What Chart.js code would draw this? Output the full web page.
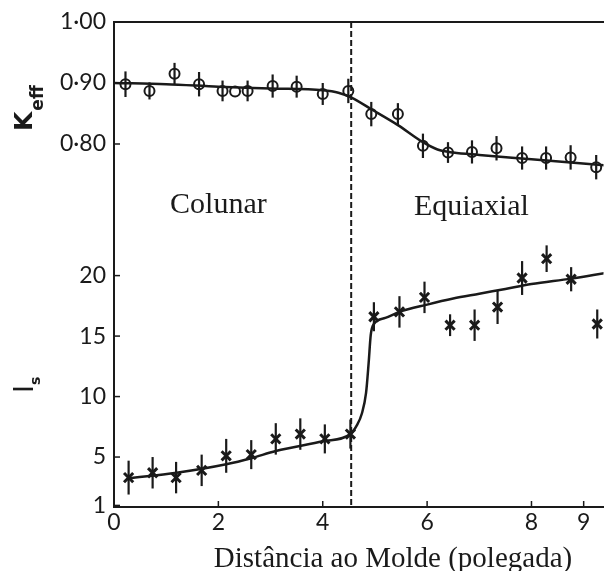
<!DOCTYPE html>
<html>
<head>
<meta charset="utf-8">
<script src="https://cdn.jsdelivr.net/npm/chart.js@4.4.1/dist/chart.umd.min.js"></script>
<style>
  html, body { margin: 0; padding: 0; background: #fff; overflow: hidden; }
  #wrap { width: 613px; height: 571px; }
</style>
</head>
<body>
<div id="wrap"><canvas id="chart" width="613" height="571"></canvas></div>
<script>
// K_eff measurements (open circles) and their error half-widths
const keffX   = [0.22, 0.68, 1.16, 1.63, 2.08, 2.32, 2.56, 3.04, 3.50, 4.00, 4.49, 4.93, 5.44, 5.92, 6.40, 6.86, 7.33, 7.82, 8.28, 8.75, 9.24];
const keffY   = [0.898, 0.887, 0.915, 0.898, 0.887, 0.886, 0.887, 0.895, 0.894, 0.882, 0.887, 0.849, 0.849, 0.797, 0.786, 0.787, 0.793, 0.777, 0.777, 0.778, 0.762];
const keffErr = [0.021, 0.014, 0.018, 0.020, 0.017, 0, 0.017, 0.019, 0.018, 0.018, 0.020, 0.020, 0.018, 0.020, 0.017, 0.019, 0.020, 0.019, 0.019, 0.020, 0.020];

// fitted curve through K_eff
const keffFitX = [0, 1.0, 2.0, 3.0, 4.0, 4.3, 4.55, 4.93, 5.44, 5.92, 6.2, 6.5, 7.0, 8.0, 9.4];
const keffFitY = [0.900, 0.898, 0.894, 0.891, 0.888, 0.884, 0.876, 0.857, 0.831, 0.803, 0.791, 0.786, 0.782, 0.775, 0.765];

// I_s measurements (crosses) and their error half-widths
const isX   = [0.28, 0.74, 1.19, 1.68, 2.15, 2.63, 3.10, 3.57, 4.04, 4.53, 4.98, 5.47, 5.95, 6.44, 6.91, 7.35, 7.82, 8.29, 8.76, 9.26];
const isY   = [3.3, 3.7, 3.3, 3.9, 5.1, 5.2, 6.5, 6.9, 6.5, 6.9, 16.6, 17.0, 18.2, 15.9, 15.9, 17.4, 19.8, 21.4, 19.7, 16.0];
const isErr = [1.4, 1.3, 1.3, 1.3, 1.4, 1.2, 1.3, 1.3, 1.2, 1.2, 1.2, 1.3, 1.3, 0.9, 1.3, 1.4, 1.4, 1.1, 1.0, 1.2];

// fitted curve through I_s
const isFitX = [0.28, 1.2, 2.15, 2.63, 3.1, 4.0, 4.53, 4.65, 4.75, 4.83, 4.88, 4.92, 4.98, 5.2, 5.47, 6.0, 6.5, 7.0, 7.5, 8.0, 8.76, 9.4];
const isFitY = [3.25, 3.7, 4.4, 4.9, 5.5, 6.3, 6.9, 7.6, 8.6, 10.3, 12.8, 15.1, 16.0, 16.5, 17.0, 17.6, 18.1, 18.5, 18.9, 19.3, 19.75, 20.2];

const xTicks    = [0, 2, 4, 6, 8, 9];
const keffTicks = [0.8, 0.9, 1.0];
const isTicks   = [1, 5, 10, 15, 20];
const boundaryX = 4.545;

const ink = '#1a1a1a';
const pts = (xs, ys) => xs.map((x, i) => ({ x: x, y: ys[i] }));

const errorBars = {
  id: 'errorBars',
  beforeDatasetsDraw(chart) {
    const ctx = chart.ctx;
    const xs = chart.scales.x;
    ctx.save();
    ctx.strokeStyle = ink;
    ctx.lineWidth = 2.2;
    chart.data.datasets.forEach(ds => {
      if (!ds.errors) return;
      const ys = chart.scales[ds.yAxisID];
      ds.data.forEach((p, i) => {
        const e = ds.errors[i];
        if (!e) return;
        const px = xs.getPixelForValue(p.x);
        ctx.beginPath();
        ctx.moveTo(px, ys.getPixelForValue(p.y - e));
        ctx.lineTo(px, ys.getPixelForValue(p.y + e));
        ctx.stroke();
      });
    });
    ctx.restore();
  }
};

const decorations = {
  id: 'decorations',
  afterDatasetsDraw(chart) {
    const ctx = chart.ctx;
    const a = chart.chartArea;
    const xs = chart.scales.x, yK = chart.scales.yK, yI = chart.scales.yI;
    ctx.save();
    // boundary between zones
    const bx = xs.getPixelForValue(boundaryX);
    ctx.strokeStyle = ink;
    ctx.lineWidth = 2;
    ctx.setLineDash([6, 3]);
    ctx.beginPath();
    ctx.moveTo(bx, a.top);
    ctx.lineTo(bx, a.bottom);
    ctx.stroke();
    ctx.setLineDash([]);
    // inward tick marks
    ctx.lineWidth = 1.5;
    xTicks.forEach(v => {
      if (v === 0) return;
      const p = xs.getPixelForValue(v);
      ctx.beginPath(); ctx.moveTo(p, a.bottom); ctx.lineTo(p, a.bottom - 6); ctx.stroke();
    });
    keffTicks.forEach(v => {
      const p = yK.getPixelForValue(v);
      ctx.beginPath(); ctx.moveTo(a.left, p); ctx.lineTo(a.left + 6, p); ctx.stroke();
    });
    isTicks.forEach(v => {
      const p = yI.getPixelForValue(v);
      ctx.beginPath(); ctx.moveTo(a.left, p); ctx.lineTo(a.left + 6, p); ctx.stroke();
    });
    // zone labels
    ctx.fillStyle = ink;
    ctx.font = '30px "Liberation Serif"';
    ctx.textAlign = 'center';
    ctx.textBaseline = 'alphabetic';
    ctx.fillText('Colunar', xs.getPixelForValue(2.0), 213);
    ctx.fillText('Equiaxial', xs.getPixelForValue(6.85), 215);
    // x title
    ctx.font = '29px "Liberation Serif"';
    ctx.fillText('Distância ao Molde (polegada)', 393, 567);
    // y titles with subscripts
    ctx.textAlign = 'left';
    ctx.save();
    ctx.translate(32, 131);
    ctx.rotate(-Math.PI / 2);
    ctx.font = 'bold 25px "DejaVu Sans"';
    ctx.fillText('K', 0, 0);
    const kw = ctx.measureText('K').width;
    ctx.font = 'bold 17px "DejaVu Sans"';
    ctx.fillText('eff', kw + 1, 11);
    ctx.restore();
    ctx.save();
    ctx.translate(33, 393);
    ctx.rotate(-Math.PI / 2);
    ctx.font = '27px "DejaVu Sans"';
    ctx.fillText('I', 0, 0);
    const iw = ctx.measureText('I').width;
    ctx.font = 'bold 14px "DejaVu Sans"';
    ctx.fillText('s', iw, 7);
    ctx.restore();
    ctx.restore();
  }
};

const tickFont = { family: 'Lato', size: 23 };

new Chart(document.getElementById('chart'), {
  type: 'scatter',
  data: {
    datasets: [
      {
        data: pts(keffFitX, keffFitY), yAxisID: 'yK', showLine: true,
        borderColor: ink, borderWidth: 2.5, pointRadius: 0, cubicInterpolationMode: 'monotone'
      },
      {
        data: pts(keffX, keffY), yAxisID: 'yK', errors: keffErr,
        pointStyle: 'circle', pointRadius: 5, borderColor: ink, borderWidth: 2,
        backgroundColor: 'rgba(0,0,0,0)'
      },
      {
        data: pts(isFitX, isFitY), yAxisID: 'yI', showLine: true,
        borderColor: ink, borderWidth: 2.5, pointRadius: 0, cubicInterpolationMode: 'monotone'
      },
      {
        data: pts(isX, isY), yAxisID: 'yI', errors: isErr,
        pointStyle: 'crossRot', pointRadius: 6.5, borderColor: ink, borderWidth: 3
      }
    ]
  },
  options: {
    responsive: false,
    animation: false,
    layout: { padding: 0 },
    plugins: { legend: { display: false }, tooltip: { enabled: false } },
    scales: {
      x: {
        type: 'linear', position: 'bottom', min: 0, max: 9.38,
        grid: { display: false, drawTicks: false },
        border: { display: true, color: ink, width: 2 },
        ticks: { font: tickFont, color: ink, padding: 2, maxRotation: 0 },
        afterBuildTicks: s => { s.ticks = xTicks.map(v => ({ value: v })); },
        afterFit: s => { s.height = 64; }
      },
      xTop: {
        type: 'linear', position: 'top', min: 0, max: 9.38,
        grid: { display: false, drawTicks: false },
        border: { display: true, color: ink, width: 2 },
        ticks: { display: false },
        afterFit: s => { s.height = 22; }
      },
      yI: {
        type: 'linear', position: 'left', stack: 'left', stackWeight: 277,
        min: 0.87, max: 23.77,
        grid: { display: false, drawTicks: false },
        border: { display: true, color: ink, width: 2 },
        ticks: { font: tickFont, color: ink, padding: 8 },
        afterBuildTicks: s => { s.ticks = isTicks.map(v => ({ value: v })); },
        afterFit: s => { s.width = 114; }
      },
      yK: {
        type: 'linear', position: 'left', stack: 'left', stackWeight: 208,
        min: 0.659, max: 1.0,
        grid: { display: false, drawTicks: false },
        border: { display: true, color: ink, width: 2 },
        ticks: {
          font: tickFont, color: ink, padding: 8,
          callback: v => v.toFixed(2).replace('.', '·')
        },
        afterBuildTicks: s => { s.ticks = keffTicks.map(v => ({ value: v })); },
        afterFit: s => { s.width = 114; }
      }
    }
  },
  plugins: [errorBars, decorations]
});
</script>
</body>
</html>
